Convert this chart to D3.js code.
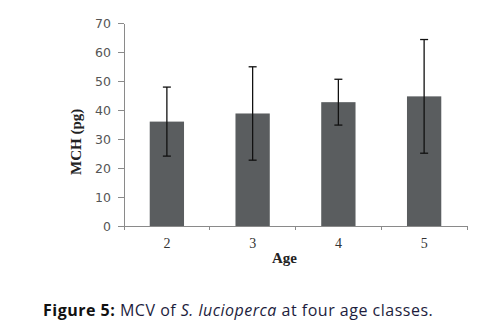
<html>
<style>
body { margin: 0; background: #fff; }
.axis path, .axis line { fill: none; stroke: #8a8a8a; shape-rendering: crispEdges; }
.yaxis text { font: 12.5px "DejaVu Sans", sans-serif; fill: #555; }
.xaxis text { font: 14px "Liberation Serif", serif; fill: #333; }
</style>
<svg width="484" height="330"></svg>
<script src="https://d3js.org/d3.v7.min.js"></script>
<script>

var ages = ["2", "3", "4", "5"];
var mch = [36.0, 38.8, 42.7, 44.7];
var sd = [11.9, 16.1, 7.9, 19.6];
var yTicks = [0, 10, 20, 30, 40, 50, 60, 70];

var svg = d3.select("svg"),
    margin = {top: 23, right: 17, bottom: 104, left: 124},
    width = 484 - margin.left - margin.right,
    height = 330 - margin.top - margin.bottom;

var g = svg.append("g")
    .attr("transform", "translate(" + margin.left + "," + margin.top + ")");

var x = d3.scaleBand().domain(ages).range([0, width]).paddingInner(0.6).paddingOuter(0.3);
var y = d3.scaleLinear().domain([0, 70]).range([height, 0]);

g.append("g")
    .attr("class", "axis yaxis")
    .call(d3.axisLeft(y).tickValues(yTicks).tickSize(6).tickPadding(7).tickSizeOuter(0));

// x axis: ticks between categories
var xa = g.append("g")
    .attr("class", "axis xaxis")
    .attr("transform", "translate(0," + height + ")");
xa.append("line").attr("x1", 0).attr("x2", width);
var step = width / ages.length;
xa.selectAll(".sep").data(d3.range(ages.length + 1)).enter().append("line")
    .attr("x1", d => d * step).attr("x2", d => d * step)
    .attr("y1", 0).attr("y2", 4);
xa.selectAll("text").data(ages).enter().append("text")
    .attr("x", d => x(d) + x.bandwidth() / 2)
    .attr("y", 22)
    .attr("text-anchor", "middle")
    .text(d => d);

g.selectAll(".bar").data(ages).enter().append("rect")
    .attr("x", d => x(d))
    .attr("width", x.bandwidth())
    .attr("y", (d, i) => y(mch[i]))
    .attr("height", (d, i) => height - y(mch[i]))
    .attr("fill", "#5a5d5f");

var eb = g.selectAll(".err").data(ages).enter().append("g")
    .attr("stroke", "#111").attr("stroke-width", 1.3);
eb.append("line")
    .attr("x1", d => x(d) + x.bandwidth() / 2).attr("x2", d => x(d) + x.bandwidth() / 2)
    .attr("y1", (d, i) => y(mch[i] + sd[i])).attr("y2", (d, i) => y(mch[i] - sd[i]));
eb.append("line")
    .attr("x1", d => x(d) + x.bandwidth() / 2 - 4).attr("x2", d => x(d) + x.bandwidth() / 2 + 4)
    .attr("y1", (d, i) => y(mch[i] + sd[i])).attr("y2", (d, i) => y(mch[i] + sd[i]));
eb.append("line")
    .attr("x1", d => x(d) + x.bandwidth() / 2 - 4).attr("x2", d => x(d) + x.bandwidth() / 2 + 4)
    .attr("y1", (d, i) => y(mch[i] - sd[i])).attr("y2", (d, i) => y(mch[i] - sd[i]));

g.append("text")
    .attr("x", width / 2 - 11)
    .attr("y", height + 37)
    .attr("text-anchor", "middle")
    .style("font", "bold 15px 'Liberation Serif', serif")
    .style("fill", "#222")
    .text("Age");

g.append("text")
    .attr("transform", "translate(" + (-43) + "," + (y(29)) + ") rotate(-90)")
    .attr("text-anchor", "middle")
    .style("font", "bold 15px 'Liberation Serif', serif")
    .style("fill", "#222")
    .text("MCH (pg)");

var cap = svg.append("text")
    .attr("x", 43)
    .attr("y", 316)
    .style("font", "16px 'Open Sans', sans-serif")
    .style("letter-spacing", "0.5px")
    .style("fill", "#1d1d3d");
cap.append("tspan").style("font-weight", "bold").style("fill", "#111").text("Figure 5:");
cap.append("tspan").text(" MCV of ");
cap.append("tspan").style("font-style", "italic").text("S. lucioperca");
cap.append("tspan").text(" at four age classes.");

</script>
</html>
